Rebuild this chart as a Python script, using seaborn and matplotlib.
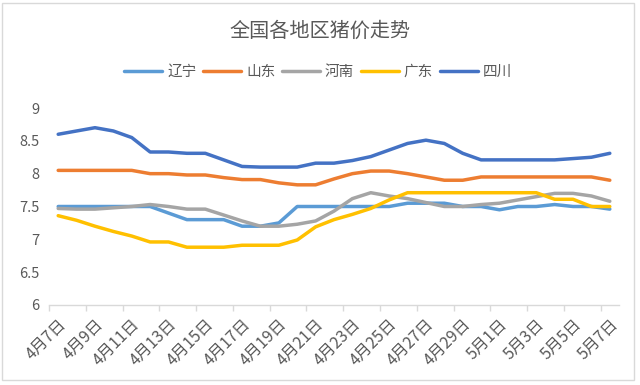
import matplotlib
matplotlib.use("Agg")
import matplotlib.pyplot as plt
import matplotlib.transforms as mtransforms
import pandas as pd
import seaborn as sns
from matplotlib.patches import Rectangle

# categories: one point per day, 4月7日 .. 5月7日
dates = [f"4月{d}日" for d in range(7, 31)] + [f"5月{d}日" for d in range(1, 8)]
regions = ["辽宁", "山东", "河南", "广东", "四川"]

liaoning = [7.5, 7.5, 7.5, 7.5, 7.5, 7.5, 7.4, 7.3, 7.3, 7.3, 7.2, 7.2, 7.25, 7.5, 7.5, 7.5,
            7.5, 7.5, 7.5, 7.55, 7.55, 7.55, 7.5, 7.5, 7.45, 7.5, 7.5, 7.53, 7.5, 7.5, 7.46]
shandong = [8.05, 8.05, 8.05, 8.05, 8.05, 8.0, 8.0, 7.98, 7.98, 7.94, 7.91, 7.91, 7.86, 7.83, 7.83, 7.92,
            8.0, 8.04, 8.04, 8.0, 7.95, 7.9, 7.9, 7.95, 7.95, 7.95, 7.95, 7.95, 7.95, 7.95, 7.9]
henan = [7.47, 7.46, 7.46, 7.48, 7.5, 7.53, 7.5, 7.46, 7.46, 7.37, 7.28, 7.2, 7.2, 7.23, 7.28, 7.43,
         7.62, 7.71, 7.66, 7.62, 7.56, 7.5, 7.5, 7.53, 7.55, 7.6, 7.65, 7.7, 7.7, 7.66, 7.58]
guangdong = [7.36, 7.29, 7.2, 7.12, 7.05, 6.96, 6.96, 6.88, 6.88, 6.88, 6.91, 6.91, 6.91, 6.99, 7.19, 7.3,
             7.38, 7.47, 7.6, 7.71, 7.71, 7.71, 7.71, 7.71, 7.71, 7.71, 7.71, 7.61, 7.61, 7.5, 7.5]
sichuan = [8.6, 8.65, 8.7, 8.65, 8.55, 8.33, 8.33, 8.31, 8.31, 8.21, 8.11, 8.1, 8.1, 8.1, 8.16, 8.16,
           8.2, 8.26, 8.36, 8.46, 8.51, 8.46, 8.31, 8.21, 8.21, 8.21, 8.21, 8.21, 8.23, 8.25, 8.31]

colors = ["#5B9BD5", "#ED7D31", "#A5A5A5", "#FFC000", "#4472C4"]
TEXT = "#595959"
AXIS = "#D9D9D9"

sns.set_style("white")
plt.rcParams["font.family"] = ["Noto Sans CJK SC", "DejaVu Sans"]

series = [liaoning, shandong, henan, guangdong, sichuan]
df = pd.concat(
    [pd.DataFrame({"day": range(len(dates)), "date": dates, "price": vals, "region": name})
     for name, vals in zip(regions, series)],
    ignore_index=True,
)

fig = plt.figure(figsize=(6.4, 3.85), dpi=100)
ax = fig.add_axes([49 / 640, 80 / 385, 570 / 640, 197 / 385])

sns.lineplot(data=df, x="day", y="price", hue="region", hue_order=regions,
             palette=colors, linewidth=2.5, ax=ax, legend=True)

ax.set_xlim(-0.5, len(dates) - 0.5)
ax.set_ylim(6, 9)
ax.set_yticks([6, 6.5, 7, 7.5, 8, 8.5, 9])
ax.set_yticklabels(["6", "6.5", "7", "7.5", "8", "8.5", "9"])
ax.set_xlabel("")
ax.set_ylabel("")

# tick marks between categories, labels on every other category
ax.set_xticks([i - 0.5 for i in range(0, len(dates), 2)])
ax.set_xticklabels([])
ax.set_xticks(list(range(0, len(dates), 2)), minor=True)
ax.set_xticklabels(dates[::2], minor=True, rotation=45, ha="right",
                   va="center", rotation_mode="anchor", fontsize=11.5, color=TEXT)
ax.tick_params(axis="x", which="major", length=4, width=1, color=AXIS, direction="out", bottom=True)
ax.tick_params(axis="x", which="minor", length=0, pad=12)
offset = mtransforms.ScaledTranslation(4 / 72, 0, fig.dpi_scale_trans)
for lab in ax.get_xticklabels(minor=True):
    lab.set_transform(lab.get_transform() + offset)
ax.tick_params(axis="y", length=0, pad=7, labelsize=10.5, labelcolor=TEXT)

for s in ["top", "right", "left"]:
    ax.spines[s].set_visible(False)
ax.spines["bottom"].set_color(AXIS)
ax.spines["bottom"].set_linewidth(1)
ax.grid(False)

handles, labels = ax.get_legend_handles_labels()
ax.get_legend().remove()
fig.legend(handles, labels, loc="center", bbox_to_anchor=(0.497, 1 - 72 / 385), ncol=5,
           frameon=False, fontsize=10.5, handlelength=2.6, handletextpad=0.35,
           columnspacing=0.45, labelcolor=TEXT)

fig.text(0.5, 1 - 31 / 385, "全国各地区猪价走势", ha="center", va="center",
         fontsize=14.5, color=TEXT)

fig.patches.append(Rectangle((2 / 640, 5 / 385), 632 / 640, 377 / 385, transform=fig.transFigure,
                             fill=False, edgecolor=AXIS, linewidth=1))

fig.savefig("out.png", dpi=100)
